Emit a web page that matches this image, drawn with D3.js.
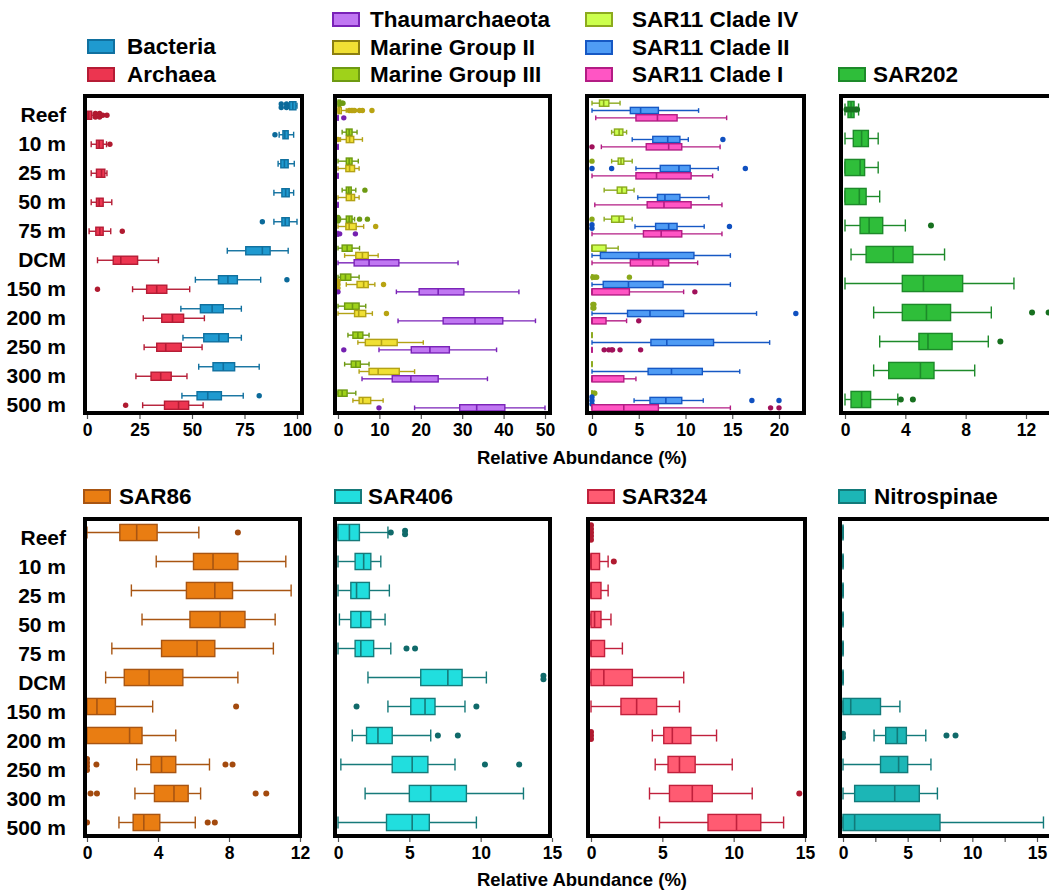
<!DOCTYPE html>
<html>
<head>
<meta charset="utf-8">
<script src="https://cdn.jsdelivr.net/npm/d3@7"></script>
<style>
  body { margin: 0; background: #fff; }
  text { font-family: "Liberation Sans", Arial, sans-serif; font-weight: bold; fill: #000; }
</style>
</head>
<body>
<svg id="chart" width="1049" height="890"></svg>
<script>
// depth categories (rows)
const depths = ["Reef", "10 m", "25 m", "50 m", "75 m", "DCM", "150 m", "200 m", "250 m", "300 m", "500 m"];

// box stats per depth: [whisker low, q1, median, q3, whisker high]
const bacteria = [[96,96.5,98,99.5,100],[91.5,93.3,94.2,95.8,98.4],[91,92.3,94,95.8,98.7],[89,92.8,94.6,96.3,98.4],[89,92.8,94.4,96.3,100],[66.8,75.6,83.5,87.2,95.8],[51.6,62.6,67.1,71.6,82.7],[44.7,54,59.6,64.9,73.5],[45.7,55.6,62.8,67.3,73.5],[53.2,60,64.9,70.3,82],[45.2,52.4,57.5,64,74.4]];
const bacteriaOut = [[92.5,92.5,95,95],[89.5],[],[],[83.5],[],[95.2],[],[],[],[82]];
const archaea = [[0,0,0.8,2.2,3],[2,4.5,5.8,7.7,9.3],[2,4.5,6.9,8.5,9.5],[2,4.5,5.8,7.7,11.8],[1,4.2,6.1,7.7,11.3],[5,12.5,16.1,24.1,34],[21.7,28.4,33.2,38,48.9],[26.8,35.6,40.7,46,55.9],[27.2,33.2,37.5,44.9,54.8],[23.3,30.5,35.1,40.1,47.6],[26.5,36.9,43.6,48.4,55.3]];
const archaeaOut = [[4,4,6,6,7.5,9.5],[10.9],[],[],[16.8],[],[5],[],[],[],[18.4]];

const mg3 = [[0,0,0.3,0.6,0.8],[1,2,2.7,3.4,4.6],[0,2,2.7,3.4,4.9],[1,2,2.6,3.2,4.3],[0.6,2,2.7,3.4,4],[0,1,2.2,3.4,5.2],[0,0.6,1.8,3.1,5.1],[0,1.6,3.5,5.1,6.7],[2.4,3.6,4.8,6,7.5],[1.6,3.2,4.3,5.4,7.5],[0,0,1,2.2,4.3]];
const mg3Out = [[1,1.2],[],[],[6.5],[0,0,5.2,7.1],[],[],[],[],[],[]];
const mg2 = [[0,0,0.3,0.8,2],[0.6,2,2.8,3.8,5.9],[0,1.9,2.8,4,5.1],[0,2,3.2,4,5.1],[0,1.9,2.7,4.4,6.2],[1.6,4.3,5.9,7.3,9.7],[2,4.6,6.2,7.3,8.9],[0,4,5,6.7,8.3],[4.8,6.6,10.5,14.3,20.6],[5.1,7.5,9.7,14.8,18.5],[3.6,5.1,6,7.9,10.9]];
const mg2Out = [[2.7,3.2,3.6,4,5.2,5.9,8.2],[0],[],[],[9.1],[],[0,0,0,11],[11.7],[],[],[]];
const thaum = [[0,0,0,0,0],[0,0,0,0,0],[0,0,0,0,0],[0,0,0,0,0],[0,0,0,0,0],[0,3.9,7.5,14.7,29],[14.1,19.6,24.2,30.4,43.7],[14.5,25.4,33.1,39.8,47.7],[9.9,17.7,22.2,26.9,38.3],[5.8,13.1,17.6,24.2,36.1],[18.5,29.4,33.5,40.3,50]];
const thaumOut = [[1.4],[],[],[],[0.4,4.2],[],[0],[],[1.4],[],[9.9]];

const clade4 = [[0,0.8,1.25,1.8,3],[2.1,2.4,2.9,3.3,3.7],[2.1,2.8,3.1,3.4,4.3],[1.3,2.7,3.2,3.7,4.5],[1.3,2.1,2.9,3.4,4.3],[0,0,0,1.5,2.8],[0,0,0,0,0],[0,0,0,0,0],[0,0,0,0,0],[0,0,0,0,0],[0,0,0,0,0]];
const clade4Out = [[],[],[0],[],[0],[],[0.1,0.2,0.4,0.5,4],[0.1,0.1,0.2,0.2],[],[],[0.2,0.3]];
const clade2 = [[0,4.1,5.2,7.1,11.4],[4.3,6.5,8.1,9.4,10.3],[4.7,7.3,9.3,10.5,13.5],[4.9,7,7.8,9.4,12.5],[4.6,6.8,8.2,9.1,12],[0,0.9,5,10.9,14.8],[0,1.2,3.9,7.6,14.8],[0,3.8,6.2,9.8,17.6],[0,6.3,8,13,19],[0,6,8.5,11.8,15.8],[4.5,6.2,7.9,9.6,11.9]];
const clade2Out = [[],[14],[0,2.1,16.4],[],[0,0,14.7],[],[],[21.8],[],[],[0,0,0,17.1,20]];
const clade1 = [[0.4,4.7,7,9.1,14.4],[1,5.8,8.2,9.6,13.7],[0,4.7,6.9,10.6,12.9],[0.3,5.9,7.7,10.6,13.9],[0,5.5,7.4,9.6,13.9],[0,4.1,6.5,8.2,11.3],[0,0,0,4,9.8],[0,0,0,1.5,3.7],[0,0,0,0,0],[0,0,0,3.4,4.7],[0,0,3.4,7.1,14.8]];
const clade1Out = [[],[0],[],[],[],[],[11],[5],[1.3,1.8,2.1,2.2,3,5.2],[],[19.1,20]];

const sar202 = [[0,0.2,0.4,0.6,0.9],[0,0.55,1.1,1.55,2.2],[0,0,1,1.3,2.2],[0,0,0.95,1.4,2.3],[0,1,1.6,2.5,4],[0.4,1.4,3.2,4.5,6.6],[0,3.8,5.2,7.8,11.2],[1.9,3.8,5.4,7,9.7],[2.3,4.9,5.5,7.1,9.5],[1.9,2.9,5,5.9,8.6],[0,0.4,1.1,1.7,3.5]];
const sar202Out = [[0.1,0.3,0.5,0.7,0.8],[],[],[],[5.7],[],[],[12.4,13.5],[10.3],[],[3.7,4.5]];

const sar86 = [[0,1.85,2.8,3.95,6.3],[3.9,6,7.1,8.5,11.2],[2.5,5.6,7.2,8.2,11.5],[3.1,5.8,7.5,8.9,10.6],[1.4,4.2,6.2,7.2,10.5],[1.05,2.1,3.5,5.4,8.5],[0,0,0.56,1.6,3.7],[0,0,2.4,3.1,5],[2.8,3.6,4.2,5,6.9],[2.7,3.8,4.9,5.7,6.4],[1.8,2.6,3.2,4.1,6.1]];
const sar86Out = [[8.5],[],[],[],[],[],[8.4],[],[0,0,0,0,0.53,7.8,8.2],[0.2,0.56,9.5,10.1],[0,6.8,7.2]];
const sar406 = [[0,0,0.8,1.5,3.5],[0,1.2,1.8,2.3,3],[0,0.9,1.3,2.2,3.6],[0.1,0.9,1.6,2.3,3.3],[0,1.2,1.6,2.5,3.7],[2.1,5.8,7.7,8.7,10.4],[3.5,5.1,6.1,6.8,8.9],[1,2,2.8,3.8,6.5],[0.2,3.8,5.2,6.3,8.2],[1.9,5,6.5,9,13],[0,3.4,5.2,6.4,9.7]];
const sar406Out = [[3.7,4.7,4.7],[],[],[],[4.8,5.4],[14.4,14.4],[1.3,9.7],[7,8.4],[10.3,12.7],[],[]];
const sar324 = [[0,0,0,0,0],[0,0,0,0.6,1.2],[0,0,0,0.7,1.2],[0,0,0.25,0.7,1.4],[0,0,0,0.95,2.2],[0,0,0.9,2.9,6.5],[0,2.1,3.2,4.6,6.2],[4.3,5.1,5.7,7,8.8],[4.5,5.4,6.2,7.3,9.9],[4.1,5.5,7.1,8.5,11.3],[4.8,8.2,10.2,11.9,13.5]];
const sar324Out = [[0,0,0,0,0],[1.6],[],[],[],[],[],[0,0,0],[],[14.6],[]];
const nitro = [[0,0,0,0,0],[0,0,0,0,0],[0,0,0,0,0],[0,0,0,0,0],[0,0,0,0,0],[0,0,0,0,0],[0,0,0.6,2.9,4.4],[2.4,3.3,4.2,4.9,6.4],[0,2.9,4.3,5,6.8],[0,0.9,4,5.9,7.3],[0,0,0.9,7.5,15.5]];
const nitroOut = [[],[],[],[],[],[],[],[0,0,8,8.7],[],[],[]];

// tick values per panel
const ticksP1 = [0, 25, 50, 75, 100];
const ticksP2 = [0, 10, 20, 30, 40, 50];
const ticksP3 = [0, 5, 10, 15, 20];
const ticksP4 = [0, 4, 8, 12];
const ticksP5 = [0, 4, 8, 12];
const ticksP6 = [0, 5, 10, 15];
const ticksP7 = [0, 5, 10, 15];
const ticksP8 = [0, 2.5, 5, 7.5, 10, 12.5, 15];

const svg = d3.select("#chart");

function series(name, stats, out, fill, stroke, dot) {
  return { name, stats, out, fill, stroke, dot };
}

const panels = [
  { top: 94, bottom: 415, left: 83, right: 304, x0: 87, x1: 297, d1: 100, ticks: ticksP1, labels: true, groupH: 19,
    series: [series("Bacteria", bacteria, bacteriaOut, "#1f9ad0", "#10709f", "#0b6a9a"),
             series("Archaea", archaea, archaeaOut, "#ec3550", "#b51c35", "#b01a30")] },
  { top: 94, bottom: 415, left: 333, right: 552, x0: 338, x1: 545, d1: 50, ticks: ticksP2, groupH: 22,
    series: [series("Marine Group III", mg3, mg3Out, "#9fd21a", "#6e9a12", "#6d9a12"),
             series("Marine Group II", mg2, mg2Out, "#f0e034", "#b3a215", "#b8a312"),
             series("Thaumarchaeota", thaum, thaumOut, "#c077f2", "#7a22b8", "#7420b0")] },
  { top: 94, bottom: 415, left: 585, right: 806, x0: 592, x1: 779, d1: 20, ticks: ticksP3, groupH: 22,
    series: [series("SAR11 Clade IV", clade4, clade4Out, "#ccff4d", "#8caa1e", "#8aa81a"),
             series("SAR11 Clade II", clade2, clade2Out, "#4f9cf5", "#1658c4", "#1050c0"),
             series("SAR11 Clade I", clade1, clade1Out, "#ff55c4", "#b31c84", "#a0105a")] },
  { top: 94, bottom: 415, left: 839, right: 1075, x0: 845, x1: 1026, d1: 12, ticks: ticksP4, groupH: 19,
    series: [series("SAR202", sar202, sar202Out, "#2fbe3a", "#1d8a2a", "#17701f")] },
  { top: 517, bottom: 838, left: 83, right: 302, x0: 87, x1: 300, d1: 12, ticks: ticksP5, labels: true, groupH: 19,
    series: [series("SAR86", sar86, sar86Out, "#e97d12", "#a85512", "#a34a0e")] },
  { top: 517, bottom: 838, left: 333, right: 552, x0: 338, x1: 552, d1: 15, ticks: ticksP6, groupH: 19,
    series: [series("SAR406", sar406, sar406Out, "#21dede", "#167a7a", "#106a6a")] },
  { top: 517, bottom: 838, left: 586, right: 807, x0: 591, x1: 805, d1: 15, ticks: ticksP7, groupH: 19,
    series: [series("SAR324", sar324, sar324Out, "#ff5b72", "#c0203c", "#b01a30")] },
  { top: 517, bottom: 838, left: 838, right: 1075, x0: 843, x1: 1037, d1: 15, ticks: ticksP8, groupH: 19,
    series: [series("Nitrospinae", nitro, nitroOut, "#1cb6b6", "#127a7a", "#106a6a")] }
];

panels.forEach(p => {
  const g = svg.append("g");
  const x = d3.scaleLinear().domain([0, p.d1]).range([p.x0, p.x1]);
  const y = d3.scaleBand().domain(depths).range([p.top + 1, p.bottom - 1]);
  const sub = d3.scaleBand().domain(p.series.map(s => s.name)).range([-p.groupH / 2, p.groupH / 2]);
  const boxH = sub.bandwidth() * 0.85;
  const capH = boxH * 0.75;

  p.series.forEach(s => {
    const rows = depths.map((d, i) => ({
      d, st: s.stats[i], out: s.out[i],
      cy: y(d) + y.bandwidth() / 2 + sub(s.name) + sub.bandwidth() / 2 + (p.series.length > 1 ? 1 : 0)
    }));
    const row = g.selectAll(null).data(rows).enter().append("g");

    // whiskers
    row.append("line")
      .attr("x1", r => x(r.st[0])).attr("x2", r => x(r.st[1]))
      .attr("y1", r => r.cy).attr("y2", r => r.cy)
      .attr("stroke", s.stroke).attr("stroke-width", 1.4);
    row.append("line")
      .attr("x1", r => x(r.st[3])).attr("x2", r => x(r.st[4]))
      .attr("y1", r => r.cy).attr("y2", r => r.cy)
      .attr("stroke", s.stroke).attr("stroke-width", 1.4);
    [0, 4].forEach(k => {
      row.append("line")
        .attr("x1", r => x(r.st[k])).attr("x2", r => x(r.st[k]))
        .attr("y1", r => r.cy - capH / 2).attr("y2", r => r.cy + capH / 2)
        .attr("stroke", s.stroke).attr("stroke-width", 1.4);
    });
    // box
    row.append("rect")
      .attr("x", r => x(r.st[1]))
      .attr("width", r => x(r.st[3]) - x(r.st[1]))
      .attr("y", r => r.cy - boxH / 2).attr("height", boxH)
      .attr("fill", s.fill).attr("stroke", s.stroke).attr("stroke-width", 1.4);
    // median
    row.append("line")
      .attr("x1", r => x(r.st[2])).attr("x2", r => x(r.st[2]))
      .attr("y1", r => r.cy - boxH / 2).attr("y2", r => r.cy + boxH / 2)
      .attr("stroke", s.stroke).attr("stroke-width", 1.6);
    // outliers, identical values stacked vertically
    row.each(function(r) {
      const seen = {};
      const counts = {};
      r.out.forEach(v => counts[v] = (counts[v] || 0) + 1);
      r.out.forEach(v => {
        const k = seen[v] = (seen[v] || 0) + 1;
        const off = (k - 1 - (counts[v] - 1) / 2) * 3.6;
        d3.select(this).append("circle")
          .attr("cx", x(v)).attr("cy", r.cy + off)
          .attr("r", p.series.length > 1 ? 2.7 : 3)
          .attr("fill", s.dot);
      });
    });
  });

  // frame
  g.append("rect")
    .attr("x", p.left + 2).attr("y", p.top + 2)
    .attr("width", p.right - p.left - 4).attr("height", p.bottom - p.top - 4)
    .attr("fill", "none").attr("stroke", "#000").attr("stroke-width", 4);

  // x axis
  const ax = g.append("g")
    .attr("transform", `translate(0,${p.bottom})`)
    .call(d3.axisBottom(x).tickValues(p.ticks).tickSize(4).tickPadding(5)
      .tickFormat(v => (p.ticks === ticksP8 && v % 5 !== 0) ? "" : d3.format("d")(v)));
  ax.select(".domain").remove();
  ax.selectAll(".tick line").attr("stroke", "#555").attr("stroke-width", 1.2);
  ax.selectAll(".tick text").attr("font-size", 17.5).attr("fill", "#000")
    .style("font-family", "'Liberation Sans', Arial, sans-serif").style("font-weight", "bold");

  // depth labels
  if (p.labels) {
    g.selectAll(null).data(depths).enter().append("text")
      .attr("x", 66).attr("y", d => y(d) + y.bandwidth() / 2 + 5)
      .attr("dy", "0.35em").attr("text-anchor", "end")
      .attr("font-size", 21).text(d => d);
  }
});

// axis titles
[464, 886].forEach(yy => {
  svg.append("text").attr("x", 582).attr("y", yy).attr("text-anchor", "middle")
    .attr("font-size", 18.5).text("Relative Abundance (%)");
});

// legends
const legendItems = [
  { name: "Bacteria", x: 87, y: 39, tx: 127, fill: "#1f9ad0", stroke: "#10709f" },
  { name: "Archaea", x: 87, y: 67, tx: 127, fill: "#ec3550", stroke: "#b51c35" },
  { name: "Thaumarchaeota", x: 332, y: 12, tx: 370, fill: "#c077f2", stroke: "#7a22b8" },
  { name: "Marine Group II", x: 332, y: 40, tx: 370, fill: "#f0e034", stroke: "#8c7f10" },
  { name: "Marine Group III", x: 332, y: 67, tx: 370, fill: "#9fd21a", stroke: "#6e9a12" },
  { name: "SAR11 Clade IV", x: 585, y: 12, tx: 632, fill: "#ccff4d", stroke: "#8caa1e" },
  { name: "SAR11 Clade II", x: 585, y: 40, tx: 632, fill: "#4f9cf5", stroke: "#1658c4" },
  { name: "SAR11 Clade I", x: 585, y: 67, tx: 632, fill: "#ff55c4", stroke: "#b31c84" },
  { name: "SAR202", x: 838, y: 67, tx: 873, fill: "#2fbe3a", stroke: "#1d8a2a" },
  { name: "SAR86", x: 83, y: 489, tx: 119, fill: "#e97d12", stroke: "#a85512" },
  { name: "SAR406", x: 334, y: 489, tx: 368, fill: "#21dede", stroke: "#167a7a" },
  { name: "SAR324", x: 587, y: 489, tx: 622, fill: "#ff5b72", stroke: "#c0203c" },
  { name: "Nitrospinae", x: 838, y: 489, tx: 874, fill: "#1cb6b6", stroke: "#127a7a" }
];
const lg = svg.append("g").selectAll(null).data(legendItems).enter().append("g");
lg.append("rect")
  .attr("x", d => d.x + 1).attr("y", d => d.y + 1).attr("width", 26).attr("height", 13)
  .attr("fill", d => d.fill).attr("stroke", d => d.stroke).attr("stroke-width", 2);
lg.append("text")
  .attr("x", d => d.tx).attr("y", d => d.y + 15)
  .attr("font-size", 22.5).text(d => d.name);
</script>
</body>
</html>
